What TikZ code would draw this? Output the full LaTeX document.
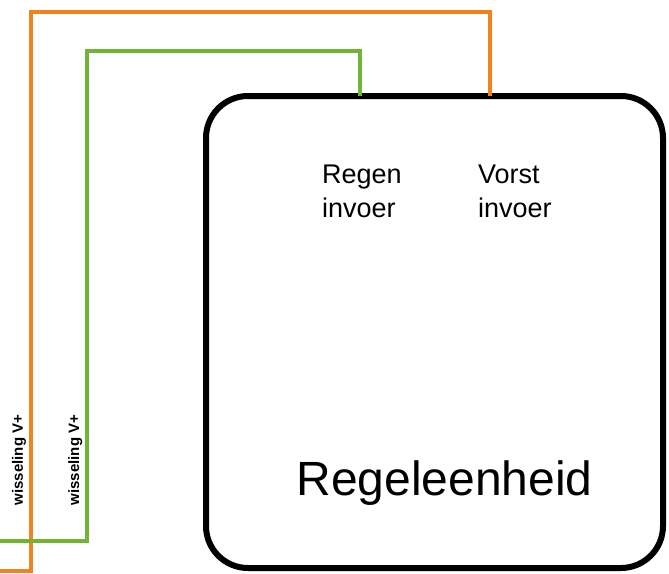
\documentclass[tikz,border=0pt]{standalone}
\usepackage{fontspec}
\setmainfont{Liberation Sans}
\definecolor{wireorange}{RGB}{242,130,30}
\definecolor{wiregreen}{RGB}{112,180,50}
\begin{document}
\begin{tikzpicture}[x=1pt,y=-1pt,
  unit/.style={draw=black, line width=6pt, rounded corners=42pt, outer sep=0pt,
    minimum width=457pt, minimum height=472pt, inner sep=0pt},
  wireO/.style={draw=wireorange, line width=4pt},
  wireG/.style={draw=wiregreen, line width=4pt},
  inlabel/.style={align=left, inner sep=0pt, font=\fontsize{27}{34}\selectfont},
  sidelabel/.style={rotate=90, inner sep=0pt, font=\fontsize{15}{17}\selectfont\bfseries}]
\useasboundingbox (0,0) rectangle (669,573);
\node[unit] (box) at (434.5,332) {};
\coordinate (oend) at (-2,571);
\coordinate (gend) at (-2,541);
\draw[wireO] (oend) -- (31,571) |- (489.5,12) -- (box.north -| 489.5,12);
\draw[wireG] (gend) -- (86.5,541) |- (360,50.5) -- (box.north -| 360,50.5);
\node[inlabel, anchor=base west] (regen) at (322,217) {Regen\\invoer};
\node[inlabel, anchor=base west] (vorst) at (478,217) {Vorst\\invoer};
\node[anchor=base, inner sep=0pt, font=\fontsize{48}{54}\selectfont] (title) at (444.5,495) {Regeleenheid};
\node[sidelabel, anchor=base] (lab1) at (23,460) {wisseling V+};
\node[sidelabel, anchor=base] (lab2) at (79,460) {wisseling V+};
\end{tikzpicture}
\end{document}
